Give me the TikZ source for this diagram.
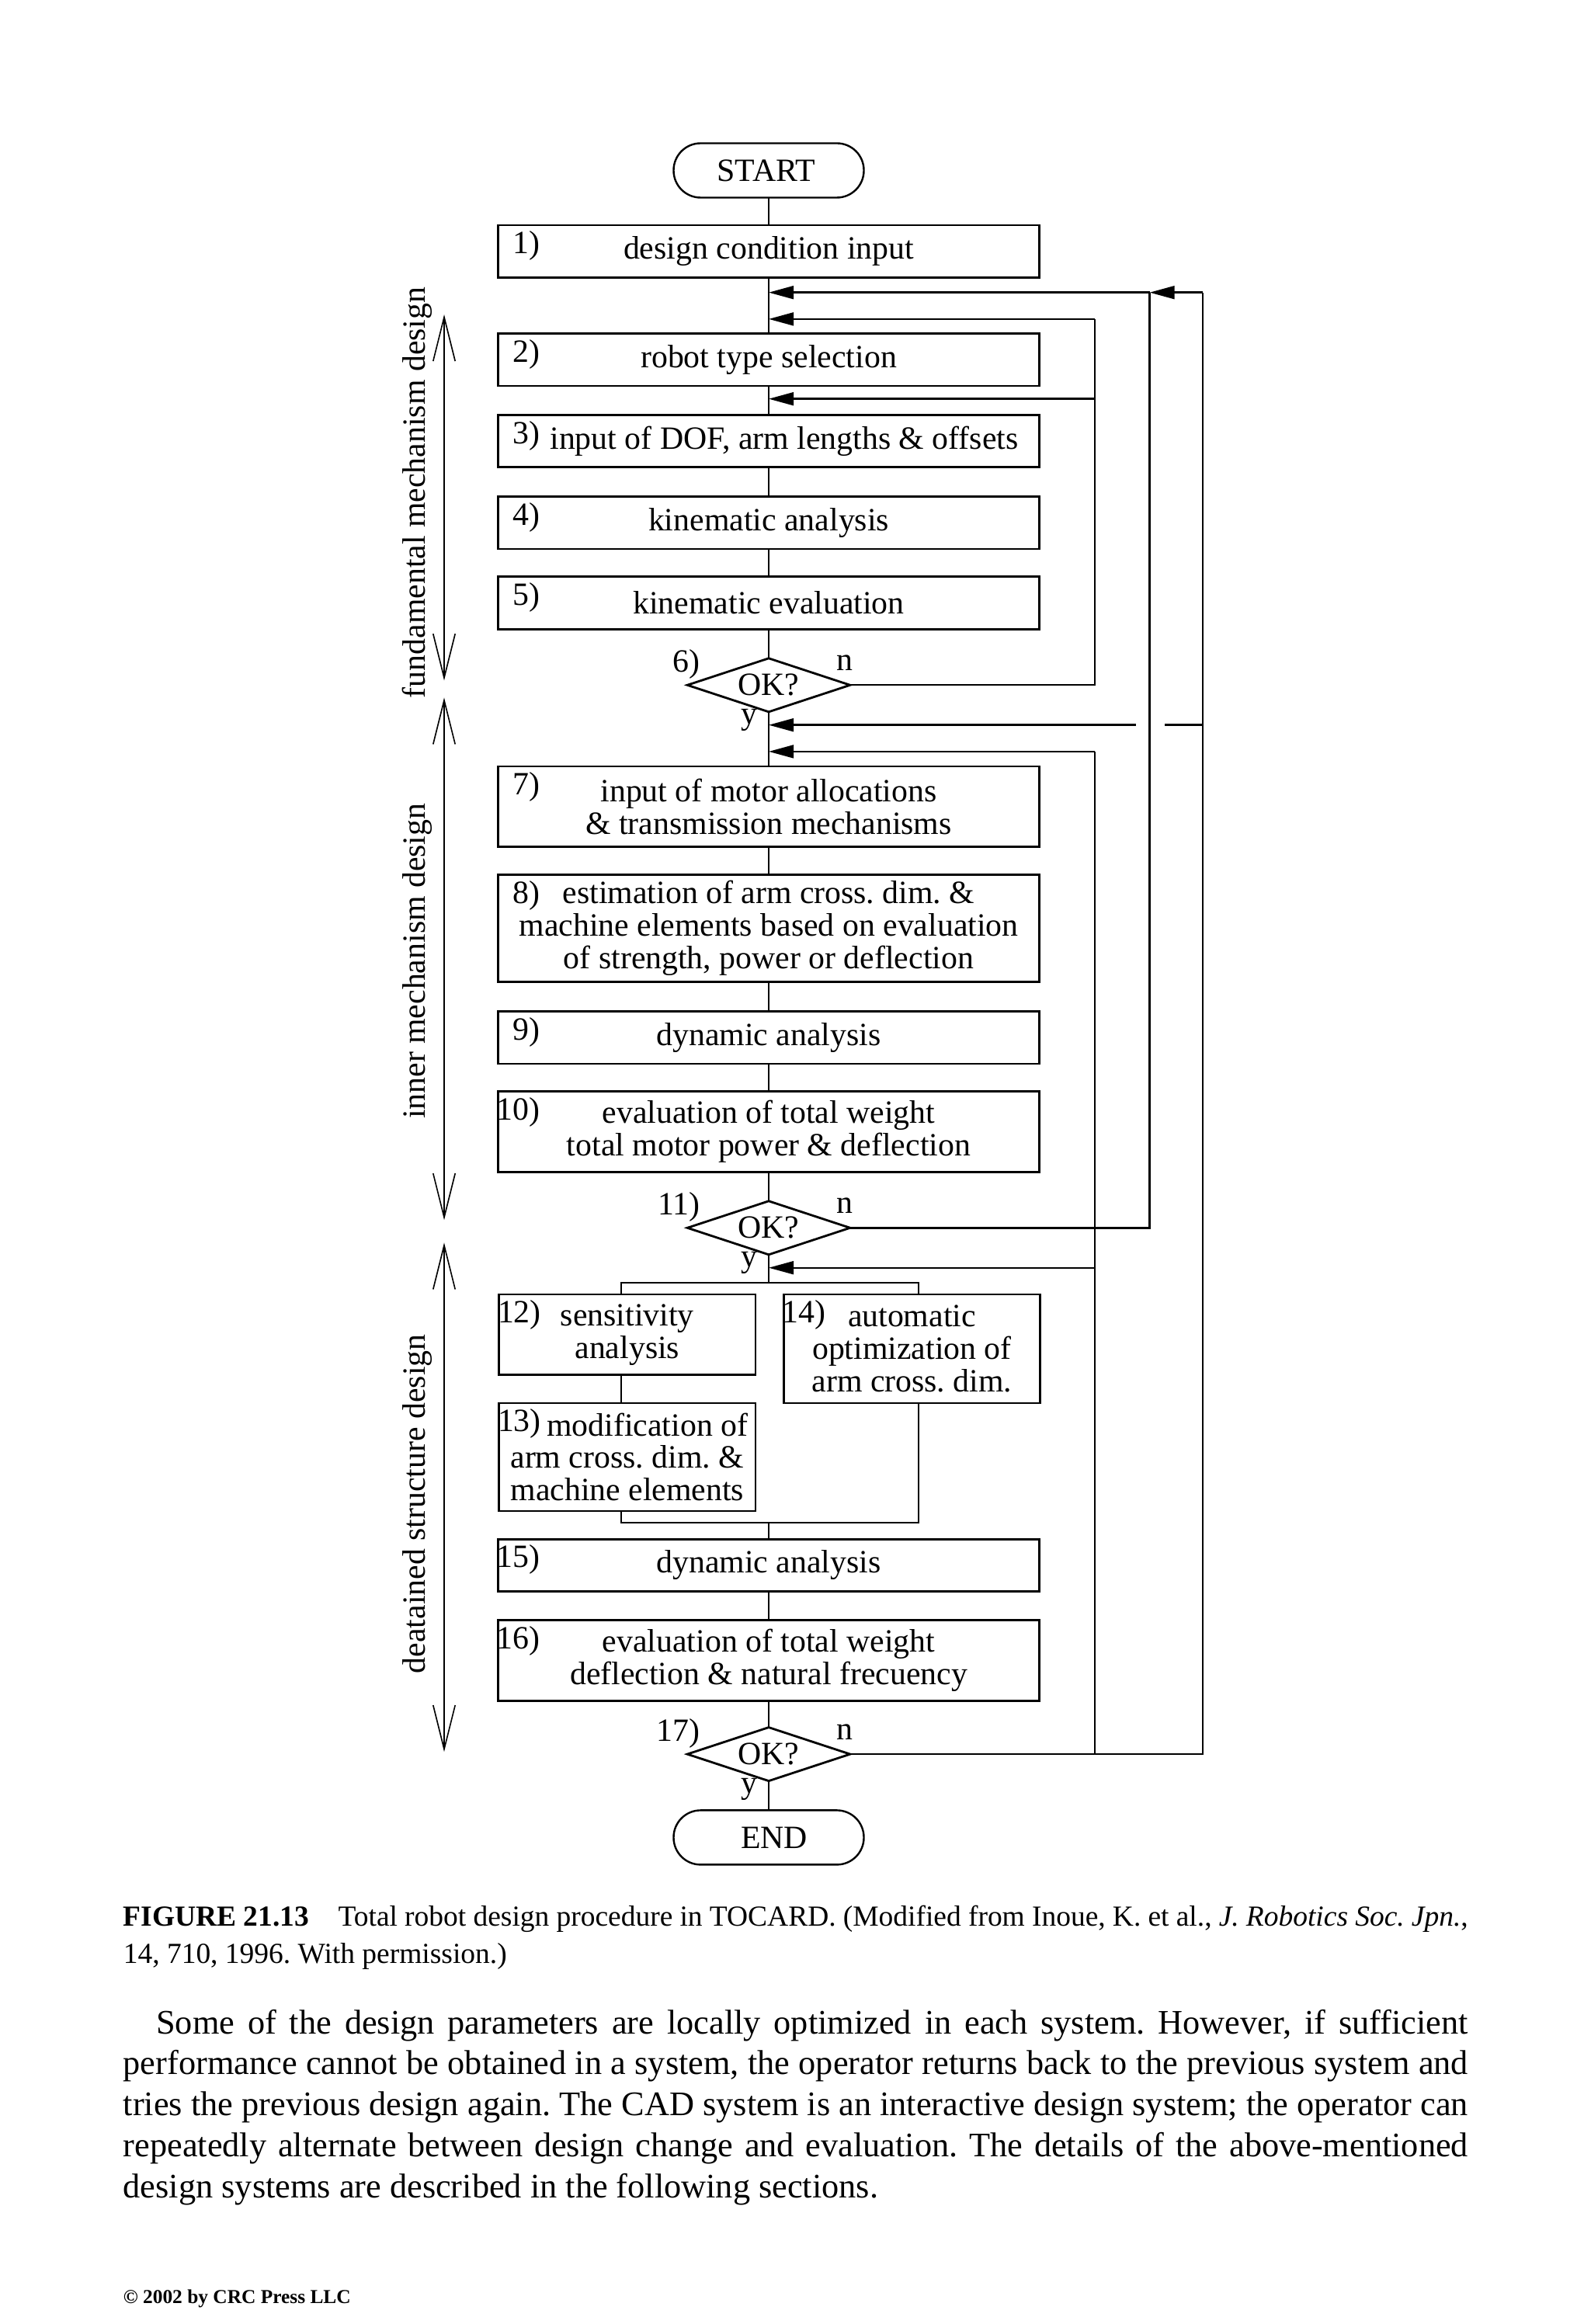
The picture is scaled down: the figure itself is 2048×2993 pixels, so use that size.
\documentclass[tikz,border=0pt]{standalone}
\usepackage{fontspec}
\setmainfont{Liberation Serif}
\usetikzlibrary{arrows.meta,shapes.geometric}
\newcommand\bxf{\fontsize{10.45}{10.45}\selectfont}
\frenchspacing
\begin{document}
\begin{tikzpicture}[x=0.25pt,y=-0.25pt,
  box/.style={draw,line width=0.7pt,minimum width=174.25pt,inner sep=0pt,outer sep=0pt,align=center,font=\bxf},
  sbox/.style={box,minimum width=82.6pt},
  hA/.style={minimum height=16.9pt},
  hB/.style={minimum height=25.9pt},
  hC/.style={minimum height=34.5pt},
  term/.style={draw,line width=0.6pt,rounded corners=8.7pt,minimum width=61.25pt,minimum height=17.5pt,inner sep=0pt,outer sep=0pt,font=\bxf},
  dec/.style={draw,diamond,aspect=3,line width=0.7pt,minimum width=52.4pt,minimum height=17.25pt,inner sep=0pt,outer sep=0pt,font=\bxf},
  num/.style={anchor=north east,inner sep=0pt,font=\bxf},
  lbl/.style={inner sep=0pt,font=\bxf},
  con/.style={line width=0.5pt},
  fb/.style={line width=0.6pt},
  arr/.style={-{Triangle[length=8pt,width=4.2pt]}},
  side/.style={line width=0.4pt,{Straight Barb[length=14.2pt,width=7.1pt]}-{Straight Barb[length=14.2pt,width=7.1pt]}},
  sidetxt/.style={rotate=90,anchor=base,inner sep=0pt,font=\bxf},
]
\useasboundingbox (0,0) rectangle (2048,2993);
\fill[white] (0,0) rectangle (2048,2993);

% terminals
\node[term] (start) at (990,219.5) {\hspace*{-1.5pt}START};
\node[term] (end) at (990,2366.4) {\hspace*{3.5pt}END};

% boxes
\node[box,hA] (b1) at (990,323.8) {design condition input};
\node[box,hA] (b2) at (990,463.3) {robot type selection};
\node[box,hA] (b3) at (990,568.1) {\hspace*{10pt}input of DOF, arm lengths \& offsets};
\node[box,hA] (b4) at (990,673.3) {kinematic analysis};
\node[box,hA] (b5) at (990,776.6) {kinematic evaluation};
\node[dec] (d6) at (990,882.3) {\raisebox{-1pt}{OK?}};
\node[box,hB] (b7) at (990,1038.9) {input of motor allocations\\\& transmission mechanisms};
\node[box,hC] (b8) at (990,1195.5) {estimation of arm cross. dim. \&\\machine elements based on evaluation\\of strength, power or deflection};
\node[box,hA] (b9) at (990,1336.1) {dynamic analysis};
\node[box,hB] (b10) at (990,1457.4) {evaluation of total weight\\total motor power \& deflection};
\node[dec] (d11) at (990,1581.3) {\raisebox{-1pt}{OK?}};
\node[sbox,hB] (b12) at (807.8,1718.8) {sensitivity\\analysis};
\node[sbox,minimum height=35pt] (b14) at (1174.4,1736.9) {automatic\\optimization of\\arm cross. dim.};
\node[sbox,minimum height=34.75pt] (b13) at (807.8,1876.4) {\hspace*{13pt}modification of\\arm cross. dim. \&\\machine elements};
\node[box,hA] (b15) at (990,2015.9) {dynamic analysis};
\node[box,hB] (b16) at (990,2138.3) {evaluation of total weight\\deflection \& natural frecuency};
\node[dec] (d17) at (990,2259.1) {\raisebox{-1pt}{OK?}};

% step numbers
\node[num] (n1) at ([xshift=13.75pt,yshift=-1.75pt]b1.north west) {1)};
\node[num] (n2) at ([xshift=13.75pt,yshift=-1.75pt]b2.north west) {2)};
\node[num] (n3) at ([xshift=13.75pt,yshift=-1.75pt]b3.north west) {3)};
\node[num] (n4) at ([xshift=13.75pt,yshift=-1.75pt]b4.north west) {4)};
\node[num] (n5) at ([xshift=13.75pt,yshift=-1.75pt]b5.north west) {5)};
\node[num] (n7) at ([xshift=13.75pt,yshift=-1.75pt]b7.north west) {7)};
\node[num] (n8) at ([xshift=13.75pt,yshift=-1.75pt]b8.north west) {8)};
\node[num] (n9) at ([xshift=13.75pt,yshift=-1.75pt]b9.north west) {9)};
\node[num] (n10) at ([xshift=13.75pt,yshift=-1.75pt]b10.north west) {10)};
\node[num] (n12) at ([xshift=13.75pt,yshift=-1.75pt]b12.north west) {12)};
\node[num] (n13) at ([xshift=13.75pt,yshift=-1.75pt]b13.north west) {13)};
\node[num] (n14) at ([xshift=13.75pt,yshift=-1.75pt]b14.north west) {14)};
\node[num] (n15) at ([xshift=13.75pt,yshift=-1.75pt]b15.north west) {15)};
\node[num] (n16) at ([xshift=13.75pt,yshift=-1.75pt]b16.north west) {16)};

% decision labels
\foreach \d/\t in {d6/6), d11/11), d17/17)}{
  \node[lbl,anchor=east] (\d k) at ([xshift=-22pt,yshift=6.75pt]\d.center) {\t};
  \node[lbl,anchor=base] (\d n) at ([xshift=24.4pt,yshift=4.6pt]\d.center) {n};
  \node[lbl,anchor=base] (\d y) at ([xshift=-6.3pt,yshift=-12.6pt]\d.center) {y};
}

% coordinates
\coordinate (t1) at (990,376.7);
\coordinate (t2) at (990,410.9);
\coordinate (t3) at (990,513.7);
\coordinate (t4) at (990,933.7);
\coordinate (t5) at (990,967.9);
\coordinate (t6) at (990,1632.7);
\coordinate (sp) at (990,1651.8);
\coordinate (spl) at (799.7,1651.8);
\coordinate (spr) at (1182.5,1651.8);
\coordinate (mg) at (990,1961);
\coordinate (mgl) at (799.7,1961);
\coordinate (mgr) at (1182.5,1961);
\coordinate (c1a) at (1410,410.9);
\coordinate (c1b) at (1410,513.7);
\coordinate (c1c) at (1410,882.3);
\coordinate (c2a) at (1480.6,376.7);
\coordinate (c2b) at (1480.6,1581.3);
\coordinate (c3a) at (1549.1,376.7);
\coordinate (c3b) at (1549.1,933.7);
\coordinate (c3c) at (1549.1,2259.1);
\coordinate (c4a) at (1410,967.9);
\coordinate (c4b) at (1410,1632.7);
\coordinate (c4c) at (1410,2259.1);
\coordinate (g1) at (1499.7,933.7);
\coordinate (g2) at (1462.5,933.7);

% main flow
\draw[con] (start.south) -- (b1.north);
\draw[con] (b1.south) -- (b2.north);
\draw[con] (b2.south) -- (b3.north);
\draw[con] (b3.south) -- (b4.north);
\draw[con] (b4.south) -- (b5.north);
\draw[con] (b5.south) -- (d6.north);
\draw[con] (d6.south) -- (b7.north);
\draw[con] (b7.south) -- (b8.north);
\draw[con] (b8.south) -- (b9.north);
\draw[con] (b9.south) -- (b10.north);
\draw[con] (b10.south) -- (d11.north);
\draw[con] (d11.south) -- (sp);
\draw[con] (spl |- b12.north) -- (spl) -- (spr) -- (spr |- b14.north);
\draw[con] (b12.south -| spl) -- (b13.north -| spl);
\draw[con] (b13.south -| mgl) -- (mgl) -- (mgr) -- (b14.south -| mgr);
\draw[con] (mg) -- (b15.north);
\draw[con] (b15.south) -- (b16.north);
\draw[con] (b16.south) -- (d17.north);
\draw[con] (d17.south) -- (end.north);

% feedback loops
\draw[fb] (d6.east) -- (c1c) -- (c1a);
\draw[fb,arr] (c1a) -- (t2);
\draw[fb,arr] (c1b) -- (t3);
\draw[fb] (d11.east) -- (c2b) -- (c2a);
\draw[fb,arr] (c2a) -- (t1);
\draw[fb] (d17.east) -- (c3c) -- (c3a);
\draw[fb,arr] (c3a) -- (c2a);
\draw[fb] (c3b) -- (g1);
\draw[fb,arr] (g2) -- (t4);
\draw[fb] (c4c) -- (c4a);
\draw[fb,arr] (c4a) -- (t5);
\draw[fb,arr] (c4b) -- (t6);

% side ranges
\coordinate (s1a) at (572,405);
\coordinate (s1b) at (572,876.3);
\coordinate (s2a) at (572,898.4);
\coordinate (s2b) at (572,1571.2);
\coordinate (s3a) at (572,1600.4);
\coordinate (s3b) at (572,2256.1);
\draw[side] (s1a) -- (s1b);
\draw[side] (s2a) -- (s2b);
\draw[side] (s3a) -- (s3b);
\node[sidetxt] (st1) at (547,634.5) {fundamental mechanism design};
\node[sidetxt] (st2) at (547,1237.8) {inner mechanism design};
\node[sidetxt] (st3) at (547,1936.8) {deatained structure design};

% caption and text
\node[anchor=base west,inner sep=0pt] (cap) at (158,2480) {\parbox[t]{433pt}{\fontsize{9.37}{12.1}\selectfont\textbf{FIGURE 21.13}\quad Total robot design procedure in TOCARD. (Modified from Inoue, K. et al., \textit{J. Robotics Soc. Jpn.},\linebreak 14, 710, 1996. With permission.)}};
\node[anchor=base west,inner sep=0pt] (body) at (158,2619) {\parbox[t]{433pt}{\fontsize{11.08}{13.2}\selectfont\hspace*{10.6pt}Some of the design parameters are locally optimized in each system. However, if sufficient\linebreak performance cannot be obtained in a system, the operator returns back to the previous system and\linebreak tries the previous design again. The CAD system is an interactive design system; the operator can\linebreak repeatedly alternate between design change and evaluation. The details of the above-mentioned\linebreak design systems are described in the following sections.}};
\node[anchor=base west,inner sep=0pt] (copy) at (158,2966) {\fontsize{6.35}{7}\selectfont\bfseries © 2002 by CRC Press LLC};
\end{tikzpicture}
\end{document}
